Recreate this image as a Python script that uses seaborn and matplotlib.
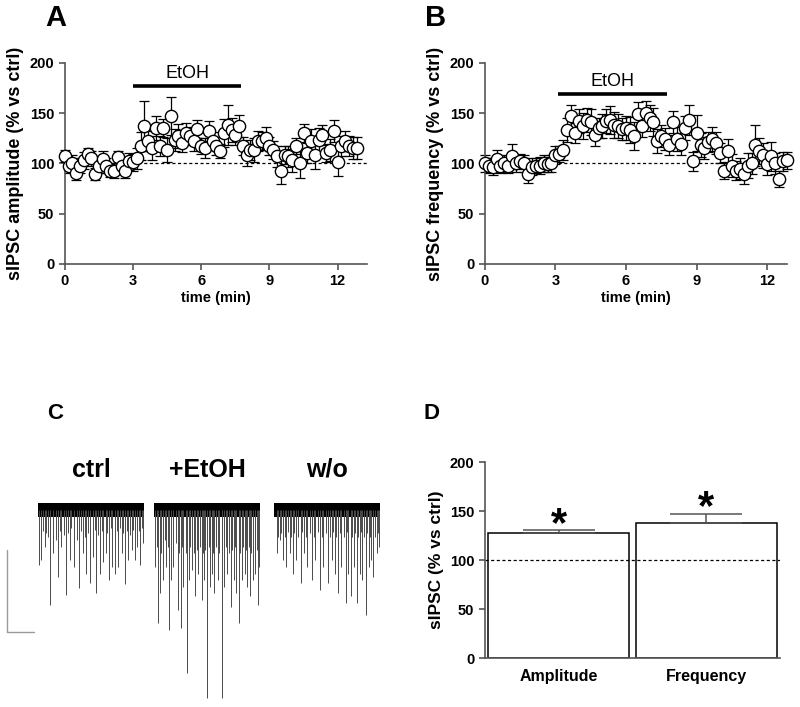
import matplotlib
matplotlib.use('Agg')
import matplotlib.pyplot as plt
import seaborn as sns
import numpy as np

# ---- panel A / B : 10-s bins, % of control ----
time_min = np.arange(78) / 6.0

amp_vals = [107, 98, 100, 91, 98, 103, 109, 105, 90, 98, 104, 98, 93, 93, 106, 98, 93, 102,
            101, 105,
            117, 137, 122, 115, 135, 117, 135, 113, 147, 123, 127, 120, 130, 127, 122, 134,
            117, 115, 132, 122, 117, 112, 130, 138, 133, 128, 137, 117, 108, 113, 113, 122,
            122, 125, 117, 113, 107, 93, 108, 107, 103, 117, 100, 130, 110, 122, 108, 123,
            128, 110, 113, 132, 101, 117, 122, 117, 115, 115]
amp_sem = [6, 7, 8, 7, 7, 8, 6, 7, 6, 7, 8, 7, 6, 7, 6, 7, 7, 8, 8, 10,
           14, 25, 10, 12, 12, 10, 9, 12, 19, 11, 12, 9, 10, 9, 10, 9, 8, 10, 10, 9,
           9, 7, 14, 20, 12, 10, 11, 9, 10, 10, 12, 10, 9, 11, 9, 9, 10, 13, 9, 10,
           11, 8, 14, 9, 10, 12, 13, 12, 10, 9, 11, 11, 13, 10, 10, 10, 11, 11]

freq_vals = [100, 98, 97, 104, 98, 100, 98, 107, 100, 102, 100, 90, 97, 98, 98, 100, 99, 100,
             108, 109, 113,
             133, 147, 130, 142, 137, 143, 141, 128, 135, 137, 142, 143, 138, 137, 134, 135,
             133, 127, 149, 137, 150, 145, 141, 122, 127, 124, 118, 141, 124, 119, 135, 143,
             102, 130, 118, 115, 121, 124, 120, 110, 93, 112, 98, 93, 95, 90, 98, 100, 118,
             112, 108, 99, 107, 100, 85, 102, 103]
freq_sem = [8, 7, 8, 9, 7, 8, 7, 12, 8, 7, 8, 9, 8, 7, 8, 8, 7, 8, 9, 8, 10,
            12, 11, 10, 12, 13, 12, 13, 11, 10, 12, 12, 14, 13, 12, 11, 12, 13, 14, 12, 11,
            12, 13, 14, 12, 11, 11, 10, 11, 12, 11, 12, 15, 9, 18, 12, 11, 10, 12, 11, 10,
            8, 12, 11, 9, 10, 10, 12, 10, 20, 13, 12, 10, 14, 10, 8, 9, 8]

etoh_a = [3.0, 7.75]
etoh_b = [3.1, 7.75]

# ---- panel D : summary ----
summary_cats = ['Amplitude', 'Frequency']
summary_mean = [127.5, 137.8]
summary_sem = [3.1, 9.5]

# ---- panel C : example traces (event time s, amplitude pA) ----
ctrl_t = [0.6, 1.9, 3.8, 5.7, 7.0, 8.5, 10.0, 11.4, 13.3, 14.8, 16.1, 18.0, 20.3, 21.8, 23.1,
          25.2, 26.5, 27.4, 29.3, 31.2, 33.1, 35.0, 36.9, 38.4, 40.3, 42.0, 43.5, 45.4, 47.3,
          49.2, 51.1, 53.0, 54.9, 56.2, 57.7, 59.3,
          2.8, 4.7, 6.6, 12.3, 17.0, 18.9, 24.2, 28.4, 32.2, 34.1, 36.0, 39.2, 41.3, 44.5,
          46.4, 48.3, 50.2, 52.1, 54.0, 57.0, 58.7]
ctrl_a = [134, 122, 90, 65, 232, 106, 73, 163, 90, 61, 207, 122, 138, 73, 191,
          106, 65, 155, 179, 114, 203, 155, 126, 106, 171, 138, 155, 138, 106,
          181, 122, 98, 122, 90, 134, 81,
          50, 55, 45, 50, 55, 45, 50, 55, 48, 60, 50, 55, 45, 50,
          45, 55, 50, 60, 48, 50, 45]

etoh_t = [0.5, 2.0, 3.3, 5.1, 6.9, 8.4, 9.6, 10.9, 13.3, 15.1, 16.5, 18.7, 20.0, 21.5, 23.3,
          25.1, 26.9, 28.4, 30.0, 31.5, 32.7, 34.2, 36.0, 38.2, 39.6, 41.5, 43.3, 45.1, 46.5,
          47.8, 49.6, 51.5, 52.7, 54.2, 56.0, 57.4, 58.7, 59.6,
          1.5, 4.2, 6.0, 7.8, 10.5, 12.4, 14.2, 16.0, 17.8, 20.5, 22.4, 24.2, 26.0, 27.8,
          29.1, 30.9, 33.3, 35.1, 36.9, 38.7, 40.5, 42.4, 44.2, 46.0, 48.7, 50.5, 52.0,
          53.6, 55.1, 56.9, 58.2]
etoh_amp = [138, 277, 203, 171, 138, 293, 171, 138, 244, 289, 187, 399, 171, 146, 211,
            155, 220, 171, 460, 187, 155, 203, 171, 460, 187, 155, 236, 171, 203,
            277, 171, 155, 187, 211, 171, 155, 232, 138,
            90, 106, 73, 90, 98, 81, 106, 90, 106, 90, 106, 98, 90, 106,
            98, 90, 106, 90, 106, 98, 90, 106, 98, 90, 106, 90, 98,
            90, 106, 90, 98]

wo_t = [1.5, 3.3, 5.1, 7.0, 8.8, 10.6, 12.4, 15.2, 17.0, 18.8, 21.6, 23.4, 26.2, 28.0, 30.7,
        32.6, 34.4, 36.2, 38.0, 40.8, 42.1, 43.5, 45.0, 46.8, 48.7, 49.9, 51.8, 53.6, 54.9,
        56.3, 58.2, 59.3,
        2.4, 4.2, 6.0, 7.9, 9.7, 11.5, 13.4, 16.1, 17.9, 20.1, 22.5, 24.7, 27.1, 29.3, 31.6,
        33.5, 35.3, 37.1, 39.5, 41.3, 44.1, 45.7, 47.7, 49.4, 50.8, 52.7, 54.1, 55.8, 57.2,
        58.7]
wo_a = [106, 73, 122, 138, 106, 155, 122, 179, 106, 138, 171, 122, 195, 138, 179,
        122, 155, 203, 138, 228, 155, 211, 138, 228, 155, 171, 256, 138, 122,
        163, 106, 90,
        65, 57, 65, 53, 65, 57, 65, 53, 65, 57, 65, 53, 65, 57, 65,
        53, 65, 57, 65, 53, 65, 57, 65, 53, 65, 57, 65, 53, 65, 57]

trace_names = ['ctrl', '+EtOH', 'w/o']

sns.set_theme(style='ticks')
plt.rcParams['font.family'] = ['Liberation Sans', 'DejaVu Sans']
plt.rcParams['font.weight'] = 'bold'
plt.rcParams['axes.labelweight'] = 'bold'
plt.rcParams['text.color'] = 'black'
plt.rcParams['axes.labelcolor'] = 'black'

fig = plt.figure(figsize=(8, 7.07), dpi=100)
AX_COL = '#555555'


def style_axis(ax):
    sns.despine(ax=ax)
    for s in ['left', 'bottom']:
        ax.spines[s].set_color(AX_COL)
        ax.spines[s].set_linewidth(1.2)
    ax.tick_params(colors=AX_COL, labelcolor='black', length=4, width=1.2, labelsize=10.5)
    for lab in ax.get_xticklabels() + ax.get_yticklabels():
        lab.set_fontweight('bold')


def time_course(ax, vals, errs, ylabel, span, bar_y, xmax):
    ax.axhline(100, ls=(0, (2.5, 2)), lw=0.9, color='black', zorder=1)
    ax.errorbar(time_min, vals, yerr=errs, fmt='none', ecolor='black', elinewidth=0.9,
                capsize=3.5, capthick=0.9, zorder=2, clip_on=False)
    sns.scatterplot(x=time_min, y=vals, ax=ax, s=78, color='white', edgecolor='black',
                    linewidth=1.0, zorder=3, clip_on=False)
    ax.plot(span, [bar_y, bar_y], lw=2.6, color='black', solid_capstyle='butt', clip_on=False)
    ax.text(np.mean(span), bar_y + 4, 'EtOH', ha='center', va='bottom', fontsize=13,
            fontweight='normal')
    ax.set_xlim(0, xmax)
    ax.set_ylim(0, 200)
    ax.set_xticks([0, 3, 6, 9, 12])
    ax.set_yticks([0, 50, 100, 150, 200])
    ax.set_xlabel('time (min)', fontsize=10.5, labelpad=2)
    ax.set_ylabel(ylabel, fontsize=13, labelpad=4)
    style_axis(ax)


axA = fig.add_axes([0.081, 0.6266, 0.378, 0.2843])
time_course(axA, amp_vals, amp_sem, 'sIPSC amplitude (% vs ctrl)', etoh_a, 177, 13.3)
axB = fig.add_axes([0.606, 0.6266, 0.378, 0.2843])
time_course(axB, freq_vals, freq_sem, 'sIPSC frequency (% vs ctrl)', etoh_b, 169, 12.85)

# ---- D ----
axD = fig.add_axes([0.606, 0.0693, 0.369, 0.2772])
axD.axhline(100, ls=(0, (2.5, 2)), lw=0.9, color='black', zorder=0)
sns.barplot(x=summary_cats, y=summary_mean, ax=axD, color='white', edgecolor='black',
            linewidth=1.1, width=0.955, errorbar=None, zorder=2)
for p in axD.patches:
    p.set_facecolor((1, 1, 1, 0))
axD.errorbar([0, 1], summary_mean, yerr=[[0, 0], summary_sem], fmt='none', ecolor=AX_COL,
             elinewidth=1.1, capsize=26, capthick=1.1, zorder=3)
for i, (m, e) in enumerate(zip(summary_mean, summary_sem)):
    axD.text(i, m + e - 15, '*', ha='center', va='bottom', fontsize=30, fontweight='bold')
axD.set_xlim(-0.5, 1.5)
axD.set_ylim(0, 200)
axD.set_yticks([0, 50, 100, 150, 200])
axD.set_ylabel('sIPSC (% vs ctrl)', fontsize=12.5, labelpad=4)
style_axis(axD)
axD.tick_params(axis='x', length=0, labelsize=11.5, pad=8)

# ---- C ----
axC = fig.add_axes([0, 0, 0.5, 267 / 707])
trace_x0 = [21.5, 87.2, 155.1]
trace_len = 60
for x0, name, ts, amps in zip(trace_x0, trace_names, [ctrl_t, etoh_t, wo_t],
                              [ctrl_a, etoh_amp, wo_a]):
    axC.vlines(np.array(ts) + x0, -np.array(amps), 0, color='#4a4a4a', lw=0.7)
    axC.fill_between([x0, x0 + trace_len], -18, 18, color='black', lw=0)
    axC.text(x0 + trace_len / 2, 98, name, ha='center', va='center', fontsize=18,
             fontweight='bold')
# scale bar 200 pA / 15 s
axC.plot([4, 4, 19], [-98, -298, -298], color='#999999', lw=1)
axC.set_xlim(0, 226.4)
axC.set_ylim(-481, 171)
axC.axis('off')

# panel letters
fig.text(45 / 800, 1 - 4 / 707, 'A', fontsize=21, fontweight='bold', va='top')
fig.text(425 / 800, 1 - 4 / 707, 'B', fontsize=21, fontweight='bold', va='top')
fig.text(47 / 800, 1 - 403 / 707, 'C', fontsize=16, fontweight='bold', va='top')
fig.text(423 / 800, 1 - 403 / 707, 'D', fontsize=16, fontweight='bold', va='top')

fig.savefig('out.png', dpi=100)
